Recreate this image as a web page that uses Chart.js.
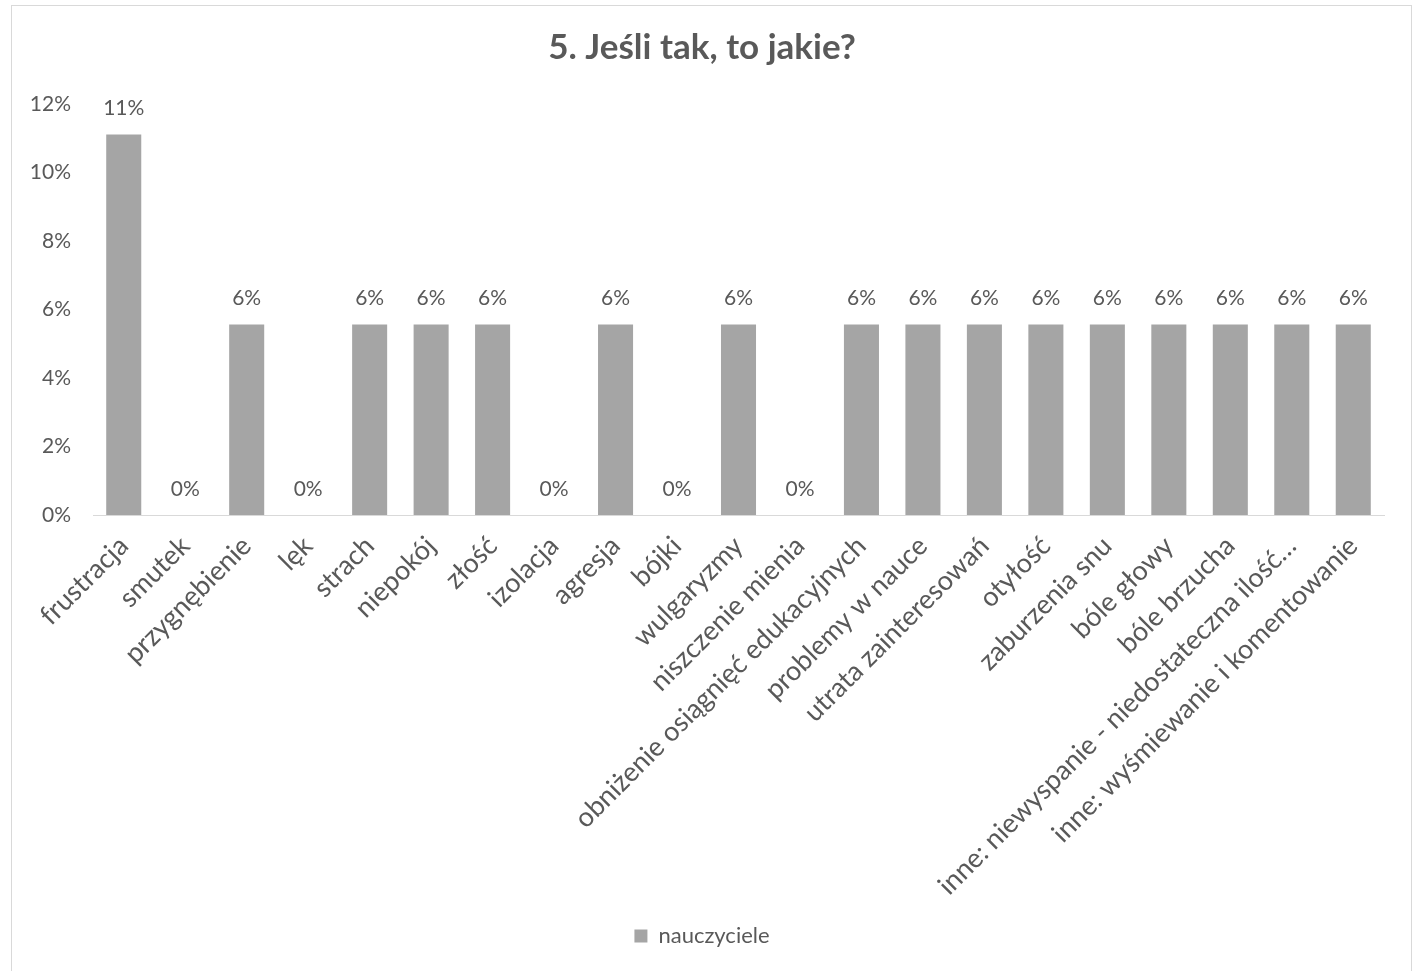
<!DOCTYPE html>
<html><head><meta charset="utf-8">
<script src="https://cdn.jsdelivr.net/npm/chart.js@4/dist/chart.umd.min.js"></script>
<style>html,body{margin:0;padding:0;background:#fff;}#wrap{width:1422px;height:971px;position:relative;}</style>
</head><body><div id="wrap"><canvas id="c" width="1422" height="971"></canvas></div>
<script>
const categories = ["frustracja","smutek","przygnębienie","lęk","strach","niepokój","złość","izolacja","agresja","bójki","wulgaryzmy","niszczenie mienia","obniżenie osiągnięć edukacyjnych","problemy w nauce","utrata zainteresowań","otyłość","zaburzenia snu","bóle głowy","bóle brzucha","inne: niewyspanie - niedostateczna ilość…","inne: wyśmiewanie i komentowanie"];
const nauczyciele = [11.11,0,5.56,0,5.56,5.56,5.56,0,5.56,0,5.56,0,5.56,5.56,5.56,5.56,5.56,5.56,5.56,5.56,5.56];
const seriesName = "nauczyciele";
const yTicks = [0,2,4,6,8,10,12];
const titleText = "5. Jeśli tak, to jakie?";

const FONT = "Lato, 'Open Sans', sans-serif";
const TXT = "#595959";

const frame = {id:'frame', beforeDraw(ch){const c=ch.ctx;c.save();c.fillStyle='#fff';c.fillRect(0,0,ch.width,ch.height);c.strokeStyle='#d9d9d9';c.lineWidth=1;c.strokeRect(11.5,5.5,1400,980);c.restore();}};
const valLabels = {id:'valLabels', afterDatasetsDraw(ch){const c=ch.ctx;c.save();c.font="21px "+FONT;c.fillStyle=TXT;c.textAlign='center';c.textBaseline='middle';
 const meta=ch.getDatasetMeta(0);meta.data.forEach((b,i)=>{c.fillText(Math.round(nauczyciele[i])+'%',b.x,b.y-26);});c.restore();}};

new Chart(document.getElementById('c'),{
 type:'bar',
 data:{labels:categories,datasets:[{label:seriesName,data:nauczyciele,backgroundColor:'#a5a5a5',borderWidth:0,barPercentage:0.57,categoryPercentage:1}]},
 options:{responsive:false,animation:false,devicePixelRatio:1,
  layout:{padding:{left:20,right:38,top:0,bottom:14}},
  plugins:{
   title:{display:true,text:titleText,color:TXT,font:{family:FONT,size:35,weight:'bold'},padding:{top:27,bottom:35}},
   legend:{position:'bottom',labels:{color:TXT,font:{family:FONT,size:22},boxWidth:13,boxHeight:13,padding:12}},
   tooltip:{enabled:false}
  },
  scales:{
   x:{grid:{display:false,drawTicks:false},border:{display:true,color:'#d9d9d9',width:1},
      ticks:{color:TXT,font:{family:FONT,size:27},maxRotation:45,minRotation:45,autoSkip:false,padding:15},
      afterFit(s){s.height=398;}},
   y:{min:0,max:12,grid:{display:false,drawTicks:false},border:{display:false},
      afterBuildTicks(s){s.ticks=yTicks.map(v=>({value:v}));},
      ticks:{color:TXT,font:{family:FONT,size:21},padding:22,callback:v=>v+'%'},
      afterFit(s){s.width=73;}}
  }
 },
 plugins:[frame,valLabels]
});
</script></body></html>
